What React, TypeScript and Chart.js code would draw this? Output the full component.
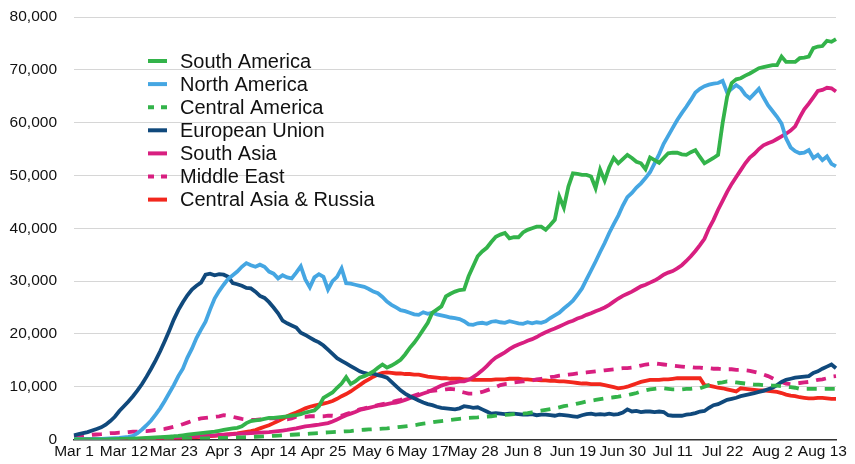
import React, { useEffect, useRef } from "react";
import { Chart, registerables } from "chart.js";

Chart.register(...registerables);

// ---- categories (daily, Mar 1 .. Aug 16) ----
const monthNames = ["Mar", "Apr", "May", "Jun", "Jul", "Aug"];
const monthDays = [31, 30, 31, 30, 31, 16];
const dayLabels: string[] = [];
monthNames.forEach((m, i) => {
  for (let d = 1; d <= monthDays[i]; d++) dayLabels.push(`${m} ${d}`);
});
const tickEvery = 11;
const lastTickIndex = 165;

const yTicks = [0, 10000, 20000, 30000, 40000, 50000, 60000, 70000, 80000];

// ---- series ----
const southAmerica = [
  0, 0, 0, 0, 10, 20, 30, 40, 60, 80,
  100, 120, 150, 180, 220, 260, 300, 350, 400, 450,
  500, 560, 620, 700, 800, 900, 1000, 1100, 1200, 1300,
  1400, 1500, 1650, 1800, 1950, 2100, 2200, 2500, 3100, 3500,
  3600, 3700, 3900, 4100, 4100, 4200, 4300, 4400, 4500, 4600,
  4800, 5100, 5300, 5500, 6300, 7900, 8400, 8900, 9800, 10600,
  11800, 10500, 11000, 11700, 12000, 12400, 12900, 13600, 14200, 13600,
  14000, 14500, 15100, 16100, 17300, 18300, 19500, 20800, 22100, 24000,
  24600, 25200, 27100, 27600, 28000, 28300, 28400, 30900, 32800, 34700,
  35600, 36300, 37400, 38400, 38800, 39100, 38100, 38300, 38300, 39200,
  39700, 40000, 40300, 40300, 39700, 40600, 41600, 46000, 43900, 47900,
  50400, 50300, 50100, 50100, 49800, 47600, 51100, 49000, 51500, 53300,
  52300, 53100, 53900, 53300, 52600, 52300, 51200, 53400, 52900, 52400,
  53300, 54200, 54300, 54300, 54000, 53900, 54400, 54800, 53500, 52300,
  52800, 53300, 53900, 59900, 64900, 67500, 68200, 68400, 68900, 69300,
  69800, 70300, 70500, 70700, 70900, 70900, 72500, 71500, 71500, 71500,
  72200, 72300, 72500, 74100, 74400, 74500, 75500, 75300, 75800,
];

const northAmerica = [
  50, 50, 60, 70, 80, 100, 100, 150, 200, 250,
  300, 400, 500, 700, 1200, 1900, 2700, 3600, 4700, 5900,
  7300, 8800, 10300, 12000, 13400, 15500, 17200, 19200, 20800, 22300,
  24600, 26700, 28100, 29300, 30400, 31100, 31800, 32700, 33400, 33000,
  32700, 33100, 32700, 31800, 31400, 30500, 31100, 30700, 30500, 31600,
  32800, 30300, 28800, 30700, 31300, 30800, 28400, 30000, 30800, 32400,
  29600, 29500, 29300, 29100, 28900, 28500, 28000, 27700, 27000, 26100,
  25500, 25000, 24500, 24300, 24000, 23700, 23600, 24100, 23800, 24000,
  23700, 23500, 23300, 23100, 23000, 22800, 22400, 21800, 21700, 22000,
  22100, 21900, 22300, 22400, 22200, 22100, 22400, 22200, 22000, 21900,
  22200, 22000, 22200, 22100, 22400, 23000, 23500, 24000, 24800, 25500,
  26300, 27400, 28600, 30300, 32000, 33700, 35500, 37200, 39100, 40800,
  42400, 44300, 45900, 46700, 47700, 48500, 49500, 50600, 52300, 54000,
  56000, 57500, 59000, 60500, 61800, 63000, 64300, 65700, 66400, 66900,
  67200, 67400, 67500, 67900, 65700, 66400, 67100, 66500, 65300, 64600,
  65500, 66400, 64800, 63300, 62200, 61100, 59800, 57000, 55300, 54600,
  54200, 54300, 54800, 53300, 53900, 52900, 53600, 52200, 51700,
];

const centralAmerica = [
  0, 0, 0, 0, 0, 0, 0, 0, 0, 0,
  10, 10, 10, 20, 20, 30, 30, 40, 50, 60,
  70, 80, 90, 100, 120, 140, 160, 180, 200, 220,
  240, 260, 280, 300, 330, 360, 390, 420, 450, 480,
  520, 560, 600, 650, 700, 750, 800, 850, 900, 950,
  1000, 1050, 1100, 1150, 1200, 1300, 1350, 1400, 1450, 1500,
  1550, 1600, 1700, 1800, 1850, 1900, 1950, 2000, 2050, 2100,
  2200, 2300, 2400, 2500, 2600, 2700, 2850, 3000, 3100, 3250,
  3400, 3500, 3600, 3700, 3800, 3900, 4000, 4100, 4150, 4200,
  4300, 4350, 4400, 4500, 4600, 4650, 4700, 4800, 4850, 4900,
  5000, 5150, 5300, 5450, 5600, 5750, 5900, 6100, 6300, 6450,
  6600, 6800, 7000, 7200, 7350, 7500, 7650, 7800, 7900, 8000,
  8100, 8250, 8400, 8600, 8800, 9100, 9300, 9500, 9600, 9700,
  9700, 9600, 9500, 9500, 9500, 9600, 9600, 9700, 9700, 10000,
  10300, 10500, 10700, 10800, 11000, 10900, 10800, 10700, 10600, 10500,
  10400, 10400, 10300, 10300, 10200, 10200, 10100, 10000, 9900, 9800,
  9600, 9600, 9600, 9600, 9600, 9600, 9600, 9600, 9600,
];

const europeanUnion = [
  800, 1000, 1200, 1400, 1700, 2000, 2300, 2800, 3500, 4300,
  5400, 6300, 7200, 8200, 9300, 10500, 11900, 13400, 15000, 16700,
  18600, 20600, 22700, 24500, 26000, 27300, 28400, 29100, 29700, 31200,
  31400, 31100, 31300, 31200, 30800, 29600, 29400, 29100, 28700, 28600,
  28000, 27200, 26800, 26000, 25000, 23900, 22500, 22000, 21600, 21200,
  20200, 19800, 19300, 18800, 18400, 17800, 17000, 16200, 15400, 14900,
  14400, 13900, 13400, 12900, 12600, 12400, 12500, 12200, 12000, 11700,
  10900, 10100, 9300, 8700, 8200, 7800, 7400, 7000, 6700, 6500,
  6200, 6000, 5900, 5800, 5700, 5900, 6300, 6200, 6000, 6100,
  5700, 5300, 4900, 5000, 4900, 4800, 4900, 4900, 4800, 4700,
  4700, 4800, 4600, 4700, 4700, 4600, 4500, 4700, 4600, 4500,
  4400, 4300, 4600, 4800, 4900, 4700, 4800, 4700, 4900, 4700,
  4800, 5100, 5700, 5300, 5400, 5200, 5300, 5300, 5200, 5300,
  5200, 4600, 4500, 4500, 4500, 4700, 4800, 5000, 5300, 5400,
  6000, 6500, 6700, 7100, 7500, 7700, 7900, 8200, 8400, 8600,
  8800, 9000, 9200, 9500, 9800, 10300, 10900, 11300, 11500, 11700,
  11800, 11900, 12000, 12600, 12900, 13400, 13800, 14200, 13500,
];

const southAsia = [
  0, 0, 0, 0, 0, 10, 10, 20, 20, 30,
  40, 50, 60, 80, 100, 120, 140, 160, 200, 240,
  280, 320, 360, 400, 450, 500, 550, 600, 650, 700,
  750, 800, 850, 900, 950, 1000, 1050, 1100, 1150, 1200,
  1250, 1300, 1350, 1400, 1500, 1600, 1700, 1800, 1950, 2100,
  2300, 2500, 2600, 2700, 2800, 2950, 3100, 3400, 3800, 4200,
  4600, 4900, 5200, 5600, 5800, 6000, 6200, 6400, 6500, 6700,
  6900, 7000, 7200, 7500, 7800, 8100, 8400, 8700, 9000, 9400,
  9800, 10200, 10500, 10700, 10800, 11000, 11000, 11300, 11800, 12400,
  13100, 13900, 14800, 15500, 16000, 16500, 17100, 17600, 18000, 18300,
  18700, 19000, 19400, 19900, 20300, 20700, 21000, 21400, 21800, 22200,
  22500, 22900, 23200, 23600, 23900, 24300, 24600, 25000, 25500, 26100,
  26700, 27200, 27600, 28000, 28500, 29000, 29300, 29700, 30100, 30600,
  31200, 31600, 31900, 32400, 33000, 33800, 34700, 35700, 36800, 38000,
  40000, 41600, 43500, 45200, 46900, 48400, 49700, 51000, 52300, 53400,
  54100, 55000, 55700, 56100, 56400, 56900, 57400, 57900, 58500, 59300,
  61000, 62500, 63600, 64800, 66000, 66200, 66600, 66500, 65900,
];

const middleEast = [
  500, 600, 700, 800, 900, 950, 1000, 1100, 1200, 1200,
  1300, 1300, 1400, 1500, 1500, 1600, 1600, 1700, 1800, 1900,
  2000, 2200, 2400, 2600, 2900, 3200, 3500, 3800, 4000, 4100,
  4200, 4300, 4400, 4600, 4500, 4300, 4100, 3900, 3800, 3700,
  3700, 3800, 3900, 4000, 4000, 3900, 3800, 3800, 4000, 4300,
  4300, 4300, 4400, 4400, 4400, 4400, 4500, 4500, 4400, 4500,
  4800, 5100, 5400, 5700, 5900, 6100, 6300, 6500, 6700, 6900,
  7100, 7300, 7500, 7800, 8000, 8300, 8600, 8900, 9100, 9200,
  9300, 9400, 9500, 9600, 9500, 9100, 8900, 8700, 8700, 8800,
  9000, 9300, 9600, 9900, 10300, 10500, 10600, 10800, 10900, 11000,
  11100, 11200, 11400, 11500, 11600, 11800, 11900, 12100, 12200, 12300,
  12400, 12500, 12600, 12700, 12800, 12900, 13000, 13100, 13200, 13300,
  13400, 13500, 13500, 13600, 13800, 14000, 14200, 14300, 14400, 14300,
  14200, 14100, 14000, 13900, 13800, 13700, 13700, 13600, 13600, 13500,
  13500, 13400, 13400, 13300, 13300, 13300, 13200, 13200, 13100, 13000,
  12800, 12600, 12300, 12000, 11600, 11200, 10900, 10600, 10500, 10600,
  10700, 10800, 10900, 11100, 11300, 11400, 11600, 11900, 12000,
];

const centralAsiaRussia = [
  0, 0, 0, 0, 0, 0, 10, 10, 20, 20,
  30, 30, 40, 50, 60, 70, 80, 100, 120, 140,
  160, 190, 220, 260, 300, 350, 400, 450, 500, 560,
  620, 700, 780, 860, 950, 1050, 1150, 1300, 1450, 1600,
  1800, 2100, 2400, 2700, 3100, 3500, 3900, 4400, 4800, 5100,
  5500, 5900, 6200, 6400, 6600, 6800, 7000, 7300, 7700, 8200,
  8600, 9100, 9700, 10300, 10900, 11400, 11900, 12300, 12600, 12700,
  12600, 12500, 12500, 12400, 12400, 12300, 12300, 12100, 11900, 11800,
  11700, 11600, 11600, 11500, 11500, 11500, 11400, 11400, 11300, 11300,
  11300, 11300, 11300, 11400, 11400, 11400, 11500, 11500, 11500, 11400,
  11400, 11300, 11300, 11200, 11200, 11100, 11100, 11000, 11000, 10900,
  10800, 10700, 10600, 10600, 10500, 10500, 10500, 10300, 10100, 9900,
  9700, 9800, 10000, 10300, 10600, 10900, 11100, 11300, 11300, 11300,
  11400, 11400, 11500, 11600, 11600, 11600, 11600, 11600, 11600, 10300,
  10200, 10000, 9800, 9700, 9500, 9300, 9100, 9700, 9600, 9500,
  9400, 9300, 9300, 9200, 9100, 9000, 8800, 8500, 8300, 8200,
  8000, 7900, 7800, 7800, 7900, 7900, 7800, 7700, 7700,
];

const seriesNames = [
  "South America",
  "North America",
  "Central America",
  "European Union",
  "South Asia",
  "Middle East",
  "Central Asia & Russia",
];
const seriesValues = [
  southAmerica,
  northAmerica,
  centralAmerica,
  europeanUnion,
  southAsia,
  middleEast,
  centralAsiaRussia,
];
const seriesColors = ["#33b34a", "#45a6e2", "#33b34a", "#10497c", "#d81f80", "#d81f80", "#f2271d"];
const seriesDashed = [false, false, true, false, false, true, false];

const FONT = "'Liberation Sans', Arial, Helvetica, sans-serif";

const legendPlugin = {
  id: "insideLegend",
  afterDraw(chart: any) {
    const ctx = chart.ctx;
    ctx.save();
    const x0 = 148;
    const x1 = 167;
    const tx = 180;
    const y0 = 61;
    const step = 23.1;
    ctx.font = `20px ${FONT}`;
    ctx.textBaseline = "middle";
    ctx.textAlign = "left";
    seriesNames.forEach((name, i) => {
      const y = y0 + i * step;
      ctx.strokeStyle = seriesColors[i];
      ctx.lineWidth = 4;
      ctx.lineCap = "butt";
      ctx.setLineDash(seriesDashed[i] ? [6, 7] : []);
      ctx.beginPath();
      ctx.moveTo(x0, y);
      ctx.lineTo(x1, y);
      ctx.stroke();
      ctx.setLineDash([]);
      ctx.fillStyle = "#111";
      ctx.fillText(name, tx, y + 1);
    });
    ctx.restore();
  },
};

export default function App() {
  const ref = useRef<HTMLCanvasElement | null>(null);
  useEffect(() => {
    if (!ref.current) return;
    const chart = new Chart(ref.current, {
      type: "line",
      data: {
        labels: dayLabels,
        datasets: seriesNames.map((name, i) => ({
          label: name,
          data: seriesValues[i],
          borderColor: seriesColors[i],
          backgroundColor: seriesColors[i],
          borderWidth: 3.8,
          borderDash: seriesDashed[i] ? [10, 8] : [],
          pointRadius: 0,
          tension: 0,
          fill: false,
        })),
      },
      options: {
        responsive: false,
        animation: false,
        devicePixelRatio: 1,
        layout: { padding: { top: 17, right: 19, left: 0, bottom: 0 } },
        plugins: {
          legend: { display: false },
          tooltip: { enabled: false },
        },
        scales: {
          x: {
            type: "category",
            offset: false,
            grid: { display: false, drawTicks: false },
            border: { display: true, color: "#333", width: 1.5 },
            afterFit(scale: any) {
              scale.height = 24.5;
            },
            ticks: {
              autoSkip: false,
              maxRotation: 0,
              minRotation: 0,
              padding: 3,
              color: "#111",
              font: { size: 15.5, family: FONT },
              callback(_v: any, index: number) {
                return index % tickEvery === 0 && index <= lastTickIndex ? dayLabels[index] : "";
              },
            },
          },
          y: {
            min: yTicks[0],
            max: yTicks[yTicks.length - 1],
            afterFit(scale: any) {
              scale.width = 74;
            },
            afterBuildTicks(scale: any) {
              scale.ticks = yTicks.map((v) => ({ value: v }));
            },
            grid: {
              color: "#d6d6d6",
              lineWidth: 1,
              drawTicks: true,
              tickLength: 17,
              tickColor: "rgba(0,0,0,0)",
            },
            border: { display: false },
            ticks: {
              padding: 0,
              color: "#111",
              font: { size: 15.5, family: FONT },
              callback(v: any) {
                return Number(v).toLocaleString("en-US");
              },
            },
          },
        },
      },
      plugins: [legendPlugin],
    });
    return () => chart.destroy();
  }, []);
  return (
    <div style={{ position: "absolute", left: 0, top: 0, width: 855, height: 464, background: "#fff" }}>
      <canvas ref={ref} width={855} height={464} style={{ display: "block", width: 855, height: 464 }} />
    </div>
  );
}
